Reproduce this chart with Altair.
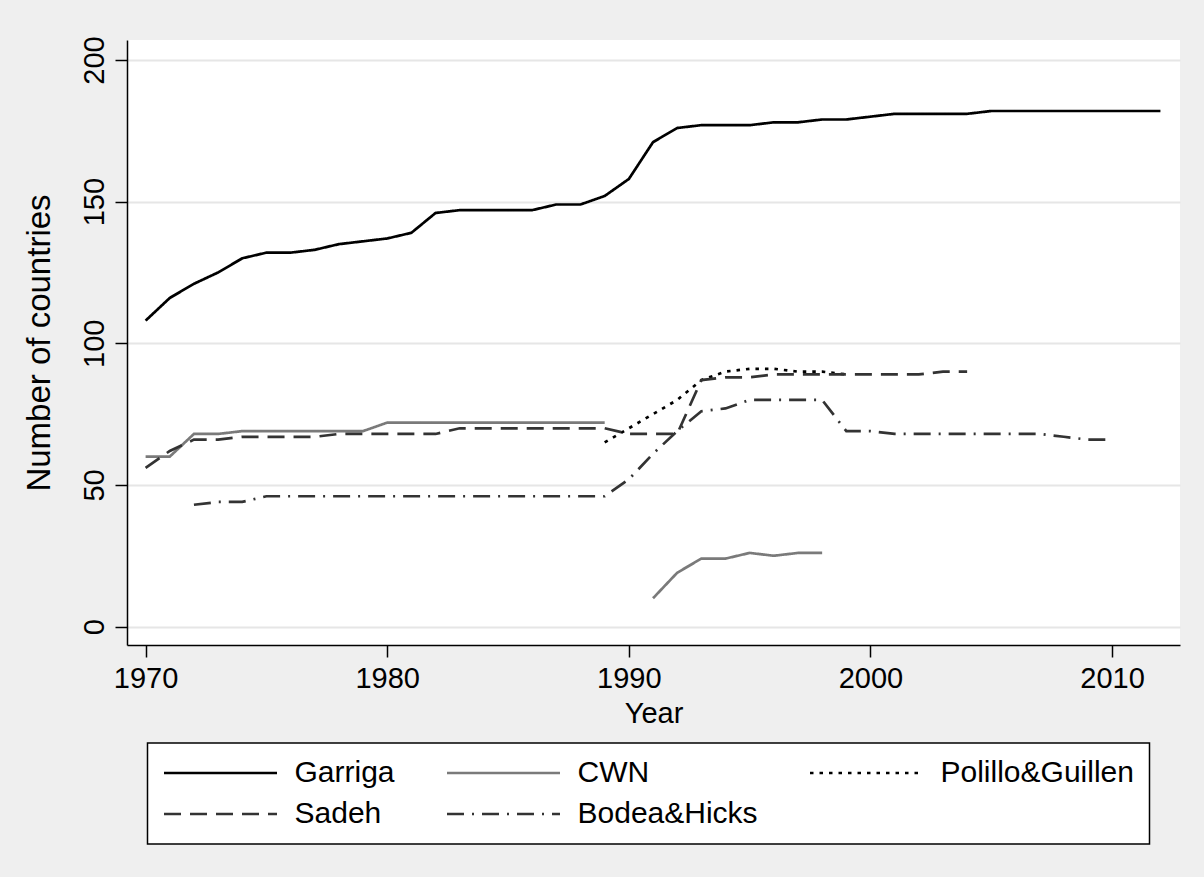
import altair as alt
import pandas as pd

# Series values by year
garriga_years = list(range(1970, 2013))
garriga = [108, 116, 121, 125, 130, 132, 132, 133, 135, 136,
           137, 139, 146, 147, 147, 147, 147, 149, 149, 152,
           158, 171, 176, 177, 177, 177, 178, 178, 179, 179,
           180, 181, 181, 181, 181, 182, 182, 182, 182, 182,
           182, 182, 182]

cwn_years_a = list(range(1970, 1990))
cwn_a = [60, 60, 68, 68, 69, 69, 69, 69, 69, 69,
         72, 72, 72, 72, 72, 72, 72, 72, 72, 72]
cwn_years_b = list(range(1991, 1999))
cwn_b = [10, 19, 24, 24, 26, 25, 26, 26]

polillo_years = list(range(1989, 2000))
polillo = [65, 70, 75, 80, 87, 90, 91, 91, 90, 90, 89]

sadeh_years = list(range(1970, 2005))
sadeh = [56, 62, 66, 66, 67, 67, 67, 67, 68, 68,
         68, 68, 68, 70, 70, 70, 70, 70, 70, 70,
         68, 68, 68, 87, 88, 88, 89, 89, 89, 89,
         89, 89, 89, 90, 90]

bodea_years = list(range(1972, 2011))
bodea = [43, 44, 44, 46, 46, 46, 46, 46, 46, 46,
         46, 46, 46, 46, 46, 46, 46, 46, 52, 61,
         69, 76, 77, 80, 80, 80, 80, 69, 69, 68,
         68, 68, 68, 68, 68, 68, 67, 66, 66]

series_names = ["Garriga", "CWN", "Polillo&Guillen", "Sadeh", "Bodea&Hicks"]
series_colors = ["#000000", "#7a7a7a", "#000000", "#333333", "#333333"]
series_dashes = [[1, 0], [1, 0], [3.5, 6], [17, 9], [17, 8, 2, 8]]

x_ticks = [1970, 1980, 1990, 2000, 2010]
y_ticks = [0, 50, 100, 150, 200]


def part(name, seg, years, values):
    return pd.DataFrame({"Year": years, "value": values,
                         "series": name, "seg": seg})


df = pd.concat([
    part("Garriga", "g", garriga_years, garriga),
    part("CWN", "c1", cwn_years_a, cwn_a),
    part("CWN", "c2", cwn_years_b, cwn_b),
    part("Polillo&Guillen", "p", polillo_years, polillo),
    part("Sadeh", "s", sadeh_years, sadeh),
    part("Bodea&Hicks", "b", bodea_years, bodea),
], ignore_index=True)

FONT = "Liberation Sans"

chart = alt.Chart(df).mark_line(strokeWidth=2.7, strokeCap="butt").encode(
    x=alt.X("Year:Q",
            scale=alt.Scale(domain=[1969.23, 2012.81], nice=False, zero=False),
            axis=alt.Axis(values=x_ticks, format="d", grid=False,
                          tickSize=12, tickWidth=1.5, tickColor="black",
                          domainColor="black", domainWidth=1.5,
                          labelFontSize=29, labelFont=FONT, labelColor="black",
                          labelBaseline="alphabetic", labelPadding=30,
                          labelFlush=False, labelOverlap=False,
                          title="Year", titleFontSize=29, titleFont=FONT,
                          titleFontWeight="normal", titleColor="black",
                          titleBaseline="alphabetic", titleAlign="center",
                          titleX=526.5, titleY=77)),
    y=alt.Y("value:Q",
            scale=alt.Scale(domain=[-6.5, 207.06], nice=False, zero=False),
            axis=alt.Axis(values=y_ticks, grid=True, gridColor="#e6e6e6",
                          gridWidth=2,
                          tickSize=12, tickWidth=1.5, tickColor="black",
                          domainColor="black", domainWidth=1.5,
                          labelFontSize=29, labelFont=FONT, labelColor="black",
                          labelAngle=270, labelAlign="center",
                          labelBaseline="alphabetic", labelPadding=12,
                          labelOverlap=False,
                          title="Number of countries", titleFontSize=33,
                          titleFont=FONT, titleFontWeight="normal",
                          titleColor="black", titleAngle=270,
                          titleBaseline="alphabetic", titleAlign="center",
                          titleX=-78, titleY=302.5)),
    color=alt.Color("series:N",
                    scale=alt.Scale(domain=series_names, range=series_colors),
                    legend=alt.Legend(title=None)),
    strokeDash=alt.StrokeDash("series:N",
                              scale=alt.Scale(domain=series_names,
                                              range=series_dashes),
                              legend=alt.Legend(title=None)),
    detail="seg:N",
).properties(
    width=1053,
    height=605,
    autosize=alt.AutoSizeParams(type="none"),
    padding={"left": 127, "top": 40, "right": 24, "bottom": 232},
    background="#efefef",
).configure_view(
    fill="white",
    stroke=None,
).configure_legend(
    orient="none",
    legendX=20.5,
    legendY=703,
    columns=3,
    direction="horizontal",
    padding=15,
    rowPadding=11,
    columnPadding=50,
    clipHeight=30,
    symbolType="stroke",
    symbolSize=12769,
    symbolStrokeWidth=2.7,
    labelOffset=16,
    labelFontSize=30,
    labelFont=FONT,
    labelColor="black",
    labelLimit=400,
    strokeColor="black",
    strokeWidth=1.5,
    fillColor="white",
)

chart.save("out.html", embed_options={"renderer": "svg", "actions": False})
